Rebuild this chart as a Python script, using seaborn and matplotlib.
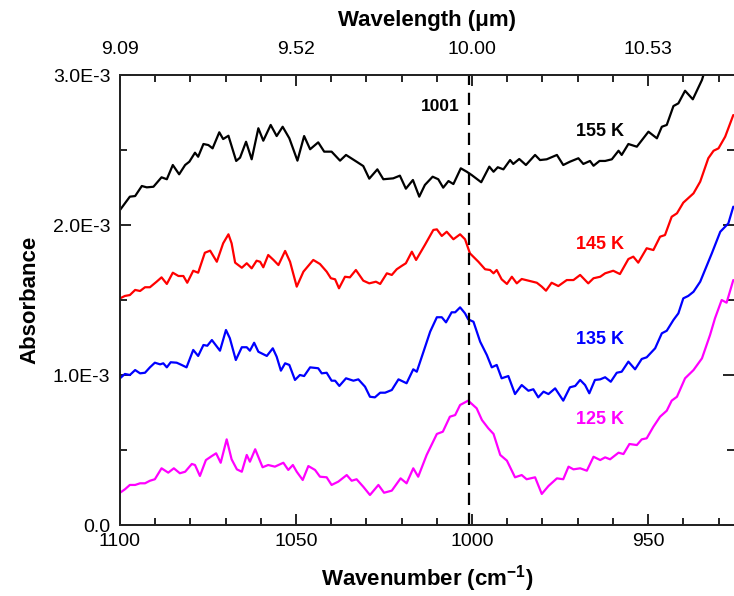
import numpy as np
import pandas as pd
import matplotlib
matplotlib.use("Agg")
import matplotlib.pyplot as plt
from matplotlib.ticker import MultipleLocator, FixedLocator, FixedFormatter
import seaborn as sns

# ---------------- data (wavenumber in cm-1, absorbance in units of 1e-3) ----------------
WN_155K = [1100.0, 1097.2, 1095.7, 1093.8, 1092.4, 1090.5, 1088.2, 1086.7, 1085.0, 1083.2, 1081.5, 1080.3,
           1078.7, 1077.8, 1076.3, 1074.9, 1073.7, 1071.8, 1070.7, 1069.2, 1067.0, 1065.9, 1064.2, 1062.6,
           1060.7, 1059.3, 1057.2, 1055.5, 1053.8, 1051.9, 1049.6, 1047.7, 1046.0, 1043.7, 1042.0, 1039.9,
           1037.5, 1035.8, 1032.8, 1030.9, 1029.2, 1026.9, 1025.2, 1022.4, 1020.5, 1018.8, 1016.8, 1015.0,
           1013.4, 1011.2, 1009.6, 1008.2, 1006.7, 1005.3, 1003.2, 1001.5, 1000.1, 997.4, 995.1, 993.9,
           992.7, 991.1, 989.2, 988.3, 986.6, 984.7, 982.1, 980.7, 978.8, 975.9, 974.1, 972.2, 969.8,
           968.4, 966.5, 965.5, 963.8, 962.2, 960.3, 958.4, 957.5, 955.6, 953.2, 949.9, 947.5, 946.1,
           944.7, 942.8, 941.4, 939.5, 937.3, 934.7, 933.5]
AB_155K = [2.100, 2.189, 2.193, 2.260, 2.251, 2.255, 2.318, 2.305, 2.400, 2.338, 2.400, 2.422,
           2.482, 2.455, 2.540, 2.533, 2.511, 2.618, 2.573, 2.595, 2.427, 2.449, 2.555, 2.438,
           2.645, 2.562, 2.667, 2.593, 2.655, 2.578, 2.429, 2.593, 2.505, 2.551, 2.489, 2.489,
           2.429, 2.467, 2.422, 2.393, 2.309, 2.371, 2.305, 2.311, 2.329, 2.242, 2.300, 2.189,
           2.267, 2.322, 2.305, 2.249, 2.293, 2.273, 2.378, 2.355, 2.333, 2.285, 2.389, 2.355,
           2.385, 2.371, 2.433, 2.407, 2.440, 2.400, 2.467, 2.433, 2.438, 2.467, 2.400, 2.422, 2.445,
           2.407, 2.427, 2.395, 2.427, 2.427, 2.438, 2.495, 2.467, 2.540, 2.522, 2.622, 2.578, 2.655,
           2.667, 2.793, 2.811, 2.895, 2.838, 2.967, 3.060]

WN_145K = [1100.0, 1098.6, 1097.2, 1095.7, 1094.3, 1092.9, 1091.5, 1089.6, 1088.2, 1086.7, 1085.0, 1083.4,
           1082.0, 1080.9, 1079.2, 1077.8, 1075.9, 1074.4, 1072.5, 1070.7, 1069.2, 1068.3, 1067.3, 1065.4,
           1064.0, 1062.6, 1061.2, 1060.2, 1059.3, 1057.9, 1056.4, 1055.0, 1053.1, 1051.7, 1049.8, 1047.9,
           1045.1, 1043.2, 1041.3, 1040.1, 1038.9, 1037.8, 1036.1, 1034.7, 1033.0, 1030.9, 1029.2, 1027.3,
           1026.1, 1024.2, 1022.8, 1021.4, 1020.0, 1018.8, 1017.1, 1015.9, 1013.4, 1011.0, 1010.0, 1008.6,
           1007.2, 1005.3, 1003.4, 1002.0, 1000.6, 998.2, 996.3, 994.9, 993.9, 993.0, 991.6, 990.1,
           988.7, 987.3, 985.9, 984.0, 981.6, 980.2, 979.0, 977.4, 975.5, 973.1, 971.2, 969.3, 967.0,
           965.5, 963.6, 962.2, 959.9, 958.0, 955.6, 954.2, 952.8, 950.4, 948.5, 946.6, 945.2, 943.3,
           941.8, 940.0, 937.1, 935.2, 932.9, 931.4, 930.0, 928.1, 925.8]
AB_145K = [1.511, 1.527, 1.533, 1.567, 1.560, 1.585, 1.585, 1.622, 1.651, 1.607, 1.682, 1.660,
           1.660, 1.615, 1.695, 1.682, 1.815, 1.829, 1.755, 1.878, 1.938, 1.878, 1.749, 1.715,
           1.745, 1.711, 1.762, 1.755, 1.718, 1.800, 1.767, 1.733, 1.827, 1.755, 1.589, 1.689,
           1.767, 1.740, 1.689, 1.645, 1.638, 1.578, 1.655, 1.651, 1.700, 1.629, 1.611, 1.622,
           1.607, 1.678, 1.667, 1.705, 1.727, 1.745, 1.822, 1.767, 1.867, 1.967, 1.971, 1.927,
           1.955, 1.905, 1.938, 1.905, 1.811, 1.755, 1.705, 1.700, 1.678, 1.700, 1.638, 1.607,
           1.655, 1.611, 1.640, 1.629, 1.615, 1.589, 1.562, 1.615, 1.593, 1.633, 1.633, 1.667, 1.611,
           1.645, 1.655, 1.678, 1.695, 1.673, 1.773, 1.789, 1.749, 1.845, 1.833, 1.922, 1.933, 2.055,
           2.078, 2.149, 2.211, 2.289, 2.445, 2.495, 2.511, 2.589, 2.733]

WN_135K = [1100.0, 1098.6, 1097.2, 1095.7, 1094.3, 1092.9, 1091.5, 1090.1, 1088.6, 1087.7, 1086.7, 1085.6,
           1083.9, 1082.5, 1081.1, 1079.2, 1077.8, 1076.3, 1075.2, 1073.9, 1071.6, 1069.9, 1068.8, 1067.1,
           1065.4, 1064.0, 1063.1, 1061.9, 1060.7, 1058.3, 1056.6, 1055.5, 1054.3, 1053.1, 1051.9, 1050.3,
           1048.9, 1047.7, 1046.0, 1043.7, 1042.7, 1041.3, 1039.9, 1038.9, 1037.7, 1035.8, 1033.7, 1032.3,
           1030.4, 1029.0, 1027.6, 1026.1, 1024.7, 1022.8, 1020.9, 1018.6, 1016.7, 1015.7, 1013.8, 1011.9,
           1010.0, 1008.6, 1007.4, 1005.8, 1004.8, 1003.4, 1002.0, 1001.1, 999.6, 997.7, 995.8, 994.4,
           993.0, 991.6, 989.7, 987.8, 985.9, 984.0, 982.6, 981.2, 979.7, 978.3, 976.4, 974.1, 972.2,
           970.7, 969.3, 967.9, 966.7, 965.1, 963.6, 962.2, 960.6, 958.9, 957.5, 955.6, 953.7, 951.8,
           950.4, 948.0, 946.1, 944.7, 942.8, 941.4, 940.0, 938.6, 937.1, 935.2, 931.9, 929.5, 927.2,
           925.8]
AB_135K = [0.978, 1.007, 1.000, 1.033, 1.011, 1.015, 1.051, 1.082, 1.071, 1.078, 1.051, 1.085,
           1.082, 1.067, 1.051, 1.167, 1.127, 1.200, 1.195, 1.233, 1.162, 1.300, 1.245, 1.100,
           1.185, 1.185, 1.162, 1.215, 1.155, 1.127, 1.178, 1.122, 1.029, 1.078, 1.067, 0.967,
           1.000, 0.993, 1.051, 1.045, 1.011, 1.015, 0.962, 0.962, 0.927, 0.978, 0.962, 0.971,
           0.922, 0.855, 0.851, 0.882, 0.882, 0.900, 0.971, 0.945, 1.038, 1.022, 1.155, 1.289,
           1.385, 1.385, 1.351, 1.418, 1.418, 1.451, 1.411, 1.371, 1.355, 1.222, 1.133, 1.051,
           1.067, 0.978, 0.993, 0.873, 0.933, 0.895, 0.905, 0.851, 0.889, 0.873, 0.911, 0.829, 0.918,
           0.927, 0.967, 0.933, 0.878, 0.967, 0.971, 0.985, 0.955, 1.015, 1.022, 1.089, 1.038, 1.107,
           1.118, 1.178, 1.278, 1.295, 1.367, 1.411, 1.511, 1.527, 1.555, 1.622, 1.811, 1.955, 2.011,
           2.122]

WN_125K = [1100.0, 1098.6, 1097.2, 1095.7, 1094.3, 1092.9, 1091.5, 1090.1, 1088.2, 1086.3, 1084.7, 1083.0,
           1081.5, 1079.6, 1078.7, 1077.3, 1075.6, 1073.9, 1072.7, 1071.4, 1069.7, 1068.3, 1066.8, 1065.4,
           1064.0, 1063.1, 1061.6, 1059.5, 1057.9, 1056.0, 1053.6, 1052.2, 1050.9, 1049.8, 1048.1, 1046.5,
           1044.6, 1043.2, 1041.3, 1039.9, 1038.0, 1035.6, 1034.2, 1032.8, 1030.9, 1029.0, 1026.6, 1025.0,
           1022.8, 1020.3, 1018.6, 1016.7, 1015.3, 1012.9, 1010.0, 1008.3, 1006.3, 1004.8, 1003.4, 1001.1,
           998.7, 997.2, 995.4, 993.9, 992.0, 990.1, 987.8, 985.9, 984.5, 982.1, 980.2, 978.3, 975.9,
           974.1, 972.6, 971.2, 969.3, 967.4, 965.5, 963.6, 962.2, 960.8, 958.4, 957.0, 955.3, 953.2,
           951.8, 950.4, 948.5, 946.6, 944.7, 943.3, 941.8, 939.5, 937.1, 934.7, 932.4, 931.0, 929.1,
           927.7, 925.8]
AB_125K = [0.215, 0.238, 0.267, 0.267, 0.278, 0.278, 0.295, 0.305, 0.378, 0.349, 0.378, 0.345,
           0.355, 0.407, 0.400, 0.327, 0.433, 0.460, 0.478, 0.415, 0.571, 0.438, 0.371, 0.355,
           0.467, 0.422, 0.505, 0.385, 0.400, 0.389, 0.415, 0.367, 0.400, 0.355, 0.300, 0.393,
           0.367, 0.322, 0.318, 0.267, 0.289, 0.333, 0.295, 0.305, 0.255, 0.200, 0.267, 0.215,
           0.229, 0.311, 0.278, 0.378, 0.322, 0.467, 0.607, 0.622, 0.722, 0.733, 0.800, 0.829,
           0.778, 0.700, 0.645, 0.607, 0.467, 0.429, 0.318, 0.333, 0.305, 0.318, 0.207, 0.260, 0.311,
           0.305, 0.389, 0.371, 0.378, 0.362, 0.455, 0.433, 0.451, 0.438, 0.482, 0.473, 0.540, 0.533,
           0.571, 0.578, 0.655, 0.722, 0.762, 0.829, 0.855, 0.978, 1.033, 1.111, 1.267, 1.378, 1.500,
           1.482, 1.633]

SERIES = ["155 K", "145 K", "135 K", "125 K"]
COLORS = {"155 K": "#000000", "145 K": "#FF0000", "135 K": "#0000FF", "125 K": "#FF00FF"}
LABEL_WN = 963.6
LABEL_AB = [2.622, 1.873, 1.238, 0.700]

MARK_WN = 1001
MARK_TEXT = "1001"

BOTTOM_TICKS = [1100, 1050, 1000, 950]
TOP_TICK_LABELS = ["9.09", "9.52", "10.00", "10.53"]
Y_TICKS = [0.0, 1.0e-3, 2.0e-3, 3.0e-3]
Y_TICK_LABELS = ["0.0", "1.0E-3", "2.0E-3", "3.0E-3"]

# ---------------- build long table ----------------
frames = []
for name, wn, ab in zip(SERIES, [WN_155K, WN_145K, WN_135K, WN_125K],
                        [AB_155K, AB_145K, AB_135K, AB_125K]):
    frames.append(pd.DataFrame({"wn": wn, "ab": np.array(ab) * 1e-3, "T": name}))
df = pd.concat(frames, ignore_index=True)

# ---------------- style ----------------
sns.set_theme(style="ticks")
plt.rcParams["font.family"] = ["Liberation Sans", "DejaVu Sans"]
plt.rcParams["mathtext.fontset"] = "custom"
plt.rcParams["mathtext.rm"] = "Liberation Sans"
plt.rcParams["mathtext.bf"] = "Liberation Sans:bold"
plt.rcParams["text.color"] = "black"
plt.rcParams["axes.labelcolor"] = "black"

fig = plt.figure(figsize=(7.34, 5.96), dpi=100)
ax = fig.add_axes([120 / 734, 71 / 596, 614 / 734, 450 / 596])

sns.lineplot(data=df, x="wn", y="ab", hue="T", palette=COLORS, sort=False,
             estimator=None, legend=False, linewidth=1.6, ax=ax)

ax.set_xlim(1100, 925.6)
ax.set_ylim(0, 3.0e-3)

ax.axvline(MARK_WN, color="black", linewidth=1.6, linestyle=(0, (5.5, 3.5)))
ax.text(1009.0, 2.793e-3, MARK_TEXT, ha="center", va="center", fontsize=12.5,
        fontweight="bold", color="black")

for name, yv in zip(SERIES, LABEL_AB):
    ax.text(LABEL_WN, yv * 1e-3, name, ha="center", va="center", fontsize=13,
            fontweight="bold", color=COLORS[name])

# axes formatting
ax.xaxis.set_major_locator(FixedLocator(BOTTOM_TICKS))
ax.xaxis.set_minor_locator(MultipleLocator(10))
ax.yaxis.set_major_locator(FixedLocator(Y_TICKS))
ax.yaxis.set_major_formatter(FixedFormatter(Y_TICK_LABELS))
ax.yaxis.set_minor_locator(MultipleLocator(0.5e-3))

ax.tick_params(which="both", direction="in", width=1.2, colors="black",
               left=True, right=True, bottom=True, top=False, labelsize=14)
ax.tick_params(which="major", length=8)
ax.tick_params(which="minor", length=5)
ax.tick_params(axis="x", pad=6)
ax.tick_params(axis="y", pad=7)

ax.set_xlabel("Wavenumber (cm$\\mathbf{^{-1}}$)", fontsize=16, fontweight="bold", labelpad=9)
ax.set_ylabel("Absorbance", fontsize=16, fontweight="bold", labelpad=9)

for side in ["left", "bottom", "top"]:
    ax.spines[side].set_linewidth(1.3)
    ax.spines[side].set_color("black")
ax.spines["right"].set_visible(False)

ax2 = ax.twiny()
ax2.set_xlim(ax.get_xlim())
ax2.xaxis.set_major_locator(FixedLocator(BOTTOM_TICKS))
ax2.xaxis.set_major_formatter(FixedFormatter(TOP_TICK_LABELS))
ax2.xaxis.set_minor_locator(MultipleLocator(10))
ax2.tick_params(which="both", direction="in", width=1.2, colors="black", labelsize=14, pad=12)
ax2.tick_params(which="major", length=8)
ax2.tick_params(which="minor", length=5)
ax2.set_xlabel("Wavelength (\u03bcm)", fontsize=16, fontweight="bold", labelpad=11)
ax2.spines["right"].set_visible(False)
for side in ["left", "bottom", "top"]:
    ax2.spines[side].set_linewidth(1.3)

fig.savefig("out.png", dpi=100)
